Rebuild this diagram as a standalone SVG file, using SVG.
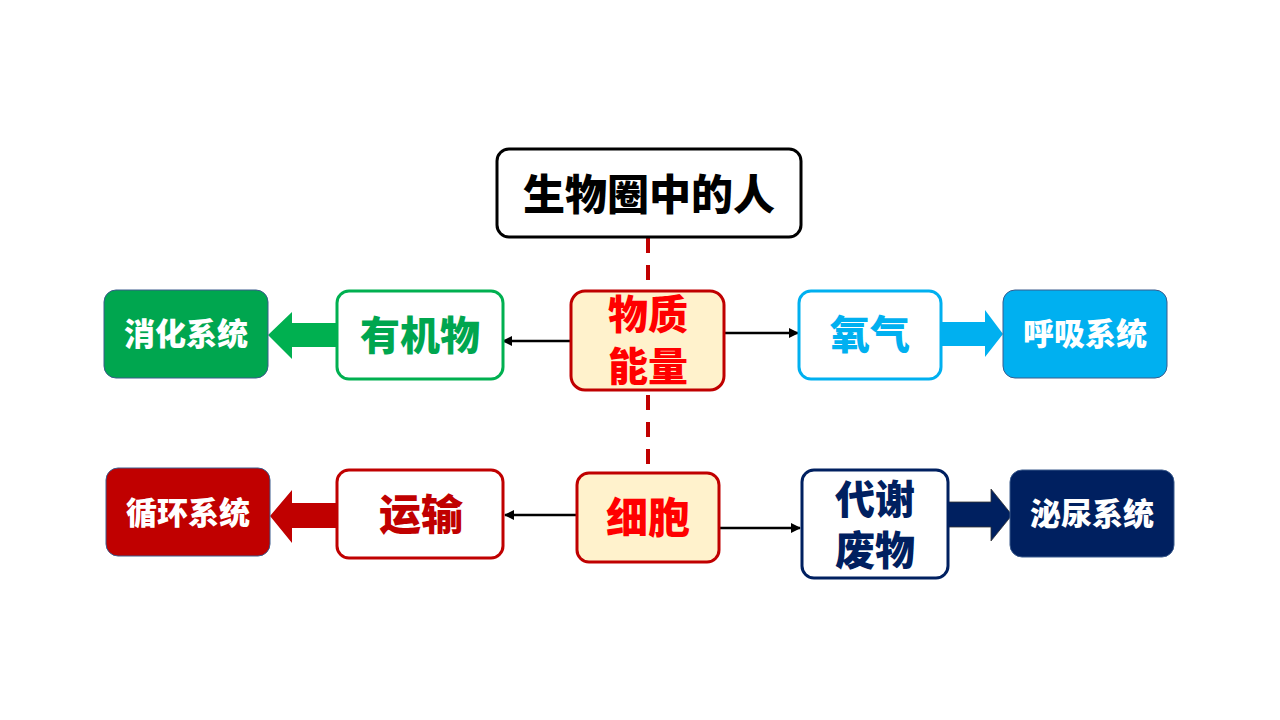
<svg xmlns="http://www.w3.org/2000/svg" width="1280" height="720" viewBox="0 0 1280 720">
<defs>
<style>
text{font-family:"Microsoft YaHei","Noto Sans CJK SC",sans-serif;font-weight:900;text-anchor:middle}
.box{stroke-width:3;fill:#fff}
.solid{stroke:#3A5A8C;stroke-width:1}
.lbl{font-size:40px}
.sys{font-size:31px;fill:#fff}
.link{stroke:#000;stroke-width:2.5;fill:none}
</style>
<marker id="ah" viewBox="0 0 10 10" refX="9" refY="5" markerWidth="6" markerHeight="4" orient="auto" markerUnits="strokeWidth">
<path d="M0,0 L10,5 L0,10 z" fill="#000"/>
</marker>
</defs>
<rect width="1280" height="720" fill="#fff"/>

<g id="connectors">
<line x1="648" y1="238" x2="648" y2="290" stroke="#C00000" stroke-width="4" stroke-dasharray="15,12"/>
<line x1="648" y1="392" x2="648" y2="466" stroke="#C00000" stroke-width="4" stroke-dasharray="15,12" stroke-dashoffset="-3"/>
<line class="link" x1="570" y1="341" x2="503" y2="341" marker-end="url(#ah)"/>
<line class="link" x1="725" y1="333" x2="798" y2="333" marker-end="url(#ah)"/>
<line class="link" x1="576" y1="515" x2="505" y2="515" marker-end="url(#ah)"/>
<line class="link" x1="720" y1="528" x2="800" y2="528" marker-end="url(#ah)"/>
<path d="M337,323 L292,323 L292,312 L268,335 L292,359 L292,347 L337,347 z" fill="#00B050"/>
<path d="M941,322 L985,322 L985,310 L1003,334 L985,357 L985,346 L941,346 z" fill="#00B0F0"/>
<path d="M337,503 L292,503 L292,490 L270,516 L292,543 L292,528 L337,528 z" fill="#C00000"/>
<path d="M948,502 L991,502 L991,489 L1012,515 L991,541 L991,527 L948,527 z" fill="#002060" stroke="#333" stroke-width="0.8"/>
</g>

<g id="title">
<rect x="497" y="149" width="304" height="88" rx="12" fill="#fff" stroke="#000" stroke-width="3"/>
<text x="649" y="210" style="font-size:42px" fill="#000">生物圈中的人</text>
</g>

<g id="wuzhi">
<rect x="571" y="291" width="153" height="99" rx="14" fill="#FFF2CC" stroke="#C00000" stroke-width="3"/>
<text class="lbl" fill="#FF0000"><tspan x="648" y="329">物质</tspan><tspan x="648" y="381">能量</tspan></text>
</g>

<g id="youjiwu">
<rect class="box" x="337" y="291" width="166" height="88" rx="12" stroke="#00B050"/>
<text x="420" y="350" class="lbl" fill="#00A64F">有机物</text>
</g>

<g id="xiaohua">
<rect class="solid" x="104" y="290" width="164" height="88" rx="12" fill="#00A64F"/>
<text x="186" y="345" class="sys">消化系统</text>
</g>

<g id="yangqi">
<rect class="box" x="799" y="291" width="142" height="88" rx="12" stroke="#00B0F0"/>
<text x="870" y="349" class="lbl" fill="#00B0F0">氧气</text>
</g>

<g id="huxi">
<rect class="solid" x="1003" y="290" width="164" height="88" rx="12" fill="#00B0F0"/>
<text x="1085" y="345" class="sys">呼吸系统</text>
</g>

<g id="xibao">
<rect x="577" y="473" width="142" height="89" rx="12" fill="#FFF2CC" stroke="#C00000" stroke-width="3"/>
<text x="648" y="533" style="font-size:42px" fill="#FF0000">细胞</text>
</g>

<g id="yunshu">
<rect class="box" x="337" y="470" width="166" height="88" rx="12" stroke="#C00000"/>
<text x="421" y="530" style="font-size:42px" fill="#C00000">运输</text>
</g>

<g id="xunhuan">
<rect class="solid" x="106" y="468" width="164" height="88" rx="12" fill="#C00000"/>
<text x="188" y="524" class="sys">循环系统</text>
</g>

<g id="daixie">
<rect class="box" x="802" y="470" width="146" height="108" rx="12" stroke="#002060"/>
<text class="lbl" fill="#002060"><tspan x="875" y="514">代谢</tspan><tspan x="875" y="565">废物</tspan></text>
</g>

<g id="miniao">
<rect class="solid" x="1010" y="470" width="164" height="87" rx="12" fill="#002060"/>
<text x="1092" y="525" class="sys">泌尿系统</text>
</g>
</svg>
